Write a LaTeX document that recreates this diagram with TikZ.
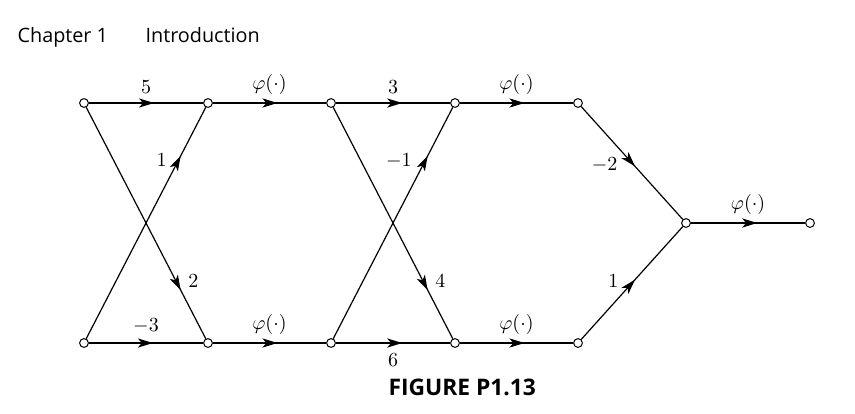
\documentclass[tikz,border=0pt]{standalone}
\usepackage{fontspec}
\setsansfont{Open Sans}
\usetikzlibrary{arrows.meta,decorations.markings}
\tikzset{flow/.style={postaction={decorate},decoration={markings,mark=at position #1 with {\arrow{Stealth[length=7.5pt,width=4.6pt,inset=2pt]}}}}}

\begin{document}
\begin{tikzpicture}[x=0.5pt,y=-0.5pt,line width=0.6pt,font=\fontsize{9.8}{11}\selectfont]
      \tikzstyle{every node}+=[inner sep=0pt]
      \tikzstyle{junction}=[circle,draw,fill=white,minimum size=4.4pt,line width=0.5pt]
      \tikzstyle{heading}=[font=\sffamily\fontsize{9.9}{12}\selectfont,anchor=base west]
      \useasboundingbox (0,0) rectangle (855,413);
      \node [heading] (chap) at (17,42) {Chapter 1};
      \node [heading] (intro) at (145,42) {Introduction};
      \node [heading,font=\sffamily\bfseries\fontsize{11.4}{12}\selectfont] (cap) at (388,395) {FIGURE P1.13};
      \node [junction] (t1) at (84,103) {};
      \node [junction] (t2) at (208,103) {};
      \node [junction] (t3) at (331,103) {};
      \node [junction] (t4) at (455,103) {};
      \node [junction] (t5) at (578,103) {};
      \node [junction] (b1) at (84,343) {};
      \node [junction] (b2) at (208,343) {};
      \node [junction] (b3) at (331,343) {};
      \node [junction] (b4) at (455,343) {};
      \node [junction] (b5) at (578,343) {};
      \node [junction] (s) at (686,223) {};
      \node [junction] (out) at (810,223) {};
      \draw [flow=0.57] (t1) -- node [above=4.5pt] {$5$} (t2);
      \draw [flow=0.57] (t2) -- node [above=4pt] {$\varphi(\cdot)$} (t3);
      \draw [flow=0.58] (t3) -- node [above=4.5pt] {$3$} (t4);
      \draw [flow=0.57] (t4) -- node [above=4pt] {$\varphi(\cdot)$} (t5);
      \draw [flow=0.56] (b1) -- node [above=4.5pt] {$-3$} (b2);
      \draw [flow=0.57] (b2) -- node [above=4pt] {$\varphi(\cdot)$} (b3);
      \draw [flow=0.58] (b3) -- node [below=5pt] {$6$} (b4);
      \draw [flow=0.57] (b4) -- node [above=4pt] {$\varphi(\cdot)$} (b5);
      \draw [flow=0.58] (s) -- node [above=4pt] {$\varphi(\cdot)$} (out);
      \draw [flow=0.79] (b1) -- node [pos=0.77,left=5.5pt] {$1$} (t2);
      \draw [flow=0.79] (t1) -- node [pos=0.75,right=6pt] {$2$} (b2);
      \draw [flow=0.79] (b3) -- node [pos=0.77,left=6.5pt] {$-1$} (t4);
      \draw [flow=0.79] (t3) -- node [pos=0.75,right=6pt] {$4$} (b4);
      \draw [flow=0.53] (t5) -- node [pos=0.52,left=8pt] {$-2$} (s);
      \draw [flow=0.53] (b5) -- node [pos=0.52,left=7.5pt] {$1$} (s);
\end{tikzpicture}
\end{document}
